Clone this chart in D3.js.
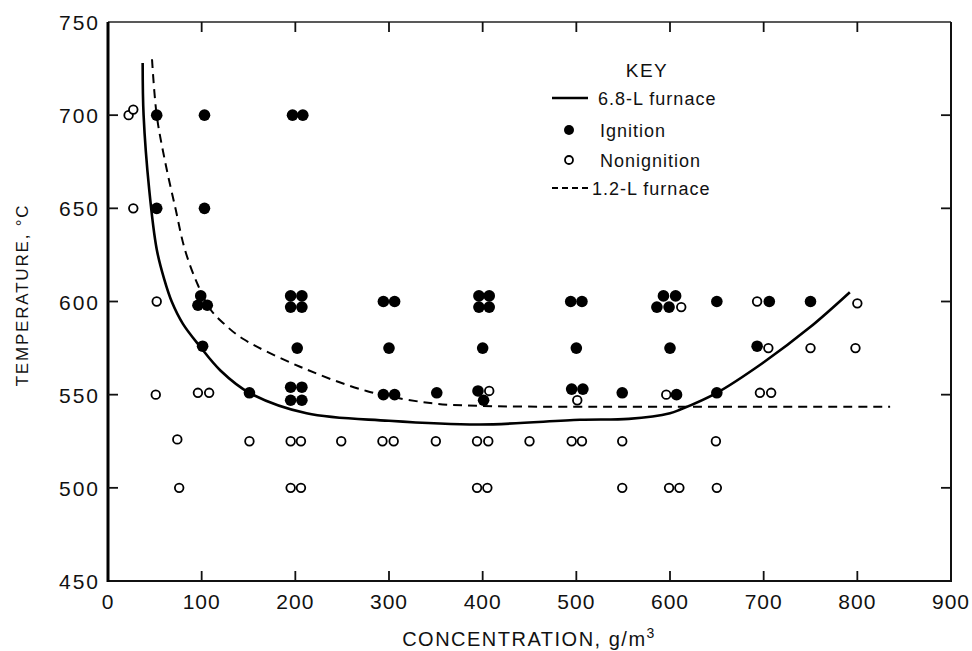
<!DOCTYPE html>
<html>
<head>
<meta charset="utf-8">
<script src="https://cdn.jsdelivr.net/npm/d3@7"></script>
<style>
  body { margin: 0; background: #fff; }
  text { font-family: "Liberation Sans", Arial, sans-serif; fill: #111; }
</style>
</head>
<body>
<div id="chart"></div>
<script>
// data: [concentration g/m3, temperature C]
const ignition = [
  [52,700],[103,700],[197,700],[208,700],
  [52,650],[103,650],
  [99,603],[96,598],[106,598],
  [195,603],[207,603],[195,597],[207,597],
  [294,600],[306,600],
  [396,603],[407,603],[396,597],[407,597],
  [494,600],[506,600],
  [593,603],[606,603],[586,597],[599,597],
  [650,600],[706,600],[750,600],
  [101,576],[202,575],[300,575],[400,575],[500,575],[600,575],[693,576],
  [151,551],[195,554],[207,554],[195,547],[207,547],
  [294,550],[306,550],[351,551],
  [395,552],[401,547],
  [495,553],[507,553],[549,551],[607,550],[650,551]
];
const nonignition = [
  [22,700],[27,703],[27,650],[52,600],
  [612,597],[693,600],[800,599],
  [705,575],[750,575],[798,575],
  [51,550],[96,551],[108,551],[407,552],[501,547],[596,550],[696,551],[708,551],
  [74,526],[151,525],[195,525],[206,525],[249,525],[293,525],[305,525],[350,525],
  [394,525],[406,525],[450,525],[495,525],[506,525],[549,525],[649,525],
  [76,500],[195,500],[206,500],[394,500],[405,500],[549,500],[599,500],[610,500],[650,500]
];
const furnace68 = [
  [37,728],[38,700],[44,660],[52,628],[60,612],[68,600],[80,588],[98,576],
  [120,563],[151,551],[212,540],[300,536],[397,534],[504,536.5],[556,537],
  [600,540],[611,542],[650,551],[699,567],[749,586],[792,605]
];
const furnace12 = [
  [47,730],[52,700],[61,675],[72,650],[82,628],[95,610],[109,596],[124,588],
  [144,580],[205,565],[276,552],[344,545.5],[397,544],[500,543.5],[600,543.5],[835,543.5]
];
const xTicks = [0,100,200,300,400,500,600,700,800,900];
const yTicks = [450,500,550,600,650,700,750];
const legendItems = ["6.8-L furnace","Ignition","Nonignition","1.2-L furnace"];

const width = 972, height = 651;
const mLeft = 108, mRight = 951, mTop = 22, mBottom = 581;

const svg = d3.select("#chart").append("svg")
  .attr("width", width).attr("height", height);

const x = d3.scaleLinear().domain([0,900]).range([mLeft,mRight]);
const y = d3.scaleLinear().domain([450,750]).range([mBottom,mTop]);

// frame
svg.append("line").attr("x1",mLeft).attr("x2",mRight).attr("y1",mTop).attr("y2",mTop)
  .attr("stroke","#222").attr("stroke-width",1.6);
svg.append("line").attr("x1",mLeft).attr("x2",mRight).attr("y1",mBottom).attr("y2",mBottom)
  .attr("stroke","#111").attr("stroke-width",2.2);
svg.append("line").attr("x1",mLeft).attr("x2",mLeft).attr("y1",mTop).attr("y2",mBottom+1)
  .attr("stroke","#000").attr("stroke-width",3);
svg.append("line").attr("x1",mRight).attr("x2",mRight).attr("y1",mTop).attr("y2",mBottom+1)
  .attr("stroke","#111").attr("stroke-width",2);

// ticks, inward on all four sides
const tk = 10;
const inner = xTicks.slice(1,-1);
svg.append("g").selectAll("line").data(inner).join("line")
  .attr("x1",d=>x(d)).attr("x2",d=>x(d)).attr("y1",mBottom).attr("y2",mBottom-tk)
  .attr("stroke","#111").attr("stroke-width",1.8);
svg.append("g").selectAll("line").data(inner).join("line")
  .attr("x1",d=>x(d)).attr("x2",d=>x(d)).attr("y1",mTop).attr("y2",mTop+tk)
  .attr("stroke","#111").attr("stroke-width",1.8);
const yInner = yTicks.slice(1,-1);
svg.append("g").selectAll("line").data(yInner).join("line")
  .attr("x1",mLeft).attr("x2",mLeft+tk).attr("y1",d=>y(d)).attr("y2",d=>y(d))
  .attr("stroke","#111").attr("stroke-width",1.8);
svg.append("g").selectAll("line").data(yInner).join("line")
  .attr("x1",mRight).attr("x2",mRight-tk).attr("y1",d=>y(d)).attr("y2",d=>y(d))
  .attr("stroke","#111").attr("stroke-width",1.8);

// tick labels
svg.append("g").selectAll("text").data(xTicks).join("text")
  .attr("x",d=>x(d)).attr("y",mBottom+28)
  .attr("text-anchor","middle")
  .style("font-size","21px").style("letter-spacing","1px")
  .text(d=>d);
svg.append("g").selectAll("text").data(yTicks).join("text")
  .attr("x",mLeft-8).attr("y",d=>y(d)+8)
  .attr("text-anchor","end")
  .style("font-size","21px").style("letter-spacing","2px")
  .text(d=>d);

// axis titles
const xt = svg.append("text")
  .attr("x",(403+655)/2).attr("y",646)
  .attr("text-anchor","middle")
  .style("font-size","20px").style("letter-spacing","1.5px");
xt.append("tspan").text("CONCENTRATION, g/m");
xt.append("tspan").attr("dy",-8).style("font-size","14px").text("3");

svg.append("text")
  .attr("transform","translate(28,295) rotate(-90)")
  .attr("text-anchor","middle")
  .style("font-size","17px").style("letter-spacing","1.8px")
  .text("TEMPERATURE, \u00b0C");

// curves
const line = d3.line().x(d=>x(d[0])).y(d=>y(d[1])).curve(d3.curveCatmullRom.alpha(0.5));
svg.append("path").datum(furnace68).attr("d",line)
  .attr("fill","none").attr("stroke","#000").attr("stroke-width",2.6);
svg.append("path").datum(furnace12).attr("d",line)
  .attr("fill","none").attr("stroke","#000").attr("stroke-width",2)
  .attr("stroke-dasharray","9,6");

// points
svg.append("g").selectAll("circle").data(ignition).join("circle")
  .attr("cx",d=>x(d[0])).attr("cy",d=>y(d[1])).attr("r",5.8)
  .attr("fill","#000");
svg.append("g").selectAll("circle").data(nonignition).join("circle")
  .attr("cx",d=>x(d[0])).attr("cy",d=>y(d[1])).attr("r",4.3)
  .attr("fill","#fff").attr("stroke","#000").attr("stroke-width",1.8);

// key
svg.append("text").attr("x",647).attr("y",77).attr("text-anchor","middle")
  .style("font-size","19px").style("letter-spacing","1.5px").text("KEY");
const rowY = [98,130,160,188];
const legend = svg.append("g");
legend.selectAll("text").data(legendItems).join("text")
  .attr("x",(d,i)=> i===0 ? 598 : (i===3 ? 592 : 600))
  .attr("y",(d,i)=>rowY[i]+7)
  .style("font-size","18px").style("letter-spacing","1px")
  .text(d=>d);
legend.append("line").attr("x1",552).attr("x2",588).attr("y1",rowY[0]).attr("y2",rowY[0])
  .attr("stroke","#000").attr("stroke-width",2.4);
legend.append("circle").attr("cx",569).attr("cy",rowY[1]).attr("r",5).attr("fill","#000");
legend.append("circle").attr("cx",569).attr("cy",rowY[2]).attr("r",4)
  .attr("fill","#fff").attr("stroke","#000").attr("stroke-width",1.8);
legend.append("line").attr("x1",552).attr("x2",588).attr("y1",rowY[3]).attr("y2",rowY[3])
  .attr("stroke","#000").attr("stroke-width",2).attr("stroke-dasharray","6,4");
</script>
</body>
</html>
